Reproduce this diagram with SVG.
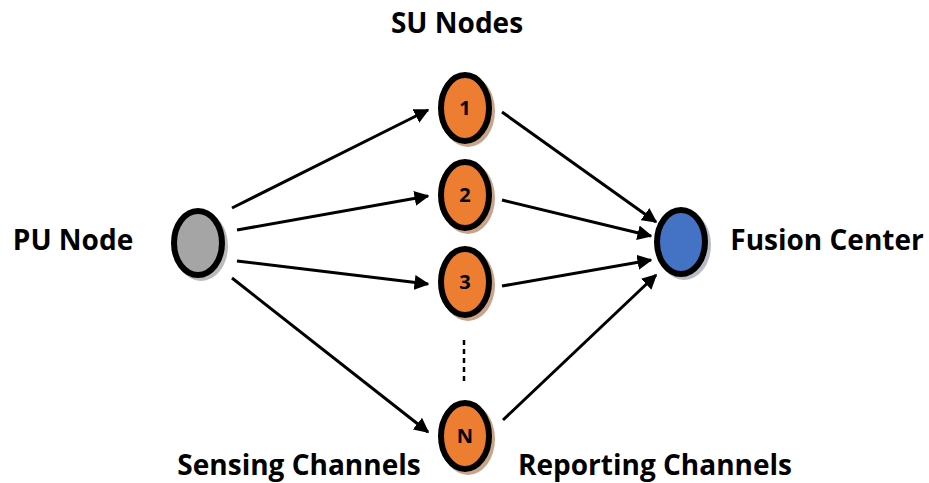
<svg xmlns="http://www.w3.org/2000/svg" width="929" height="483" viewBox="0 0 929 483">
<defs>
<style>
.lbl{font-family:"Open Sans","Liberation Sans",sans-serif;font-weight:700;font-size:28px;fill:#000}
.num{font-family:"Open Sans","Liberation Sans",sans-serif;font-weight:700;font-size:20px;fill:#000;text-anchor:middle}
.edge{stroke:#000;stroke-width:3;fill:none;marker-end:url(#ah)}
.su{fill:#ED7D31;stroke:#000;stroke-width:6}
.sh{fill:#C9A38A}
</style>
<marker id="ah" viewBox="0 0 10 10" refX="9" refY="5" markerWidth="5" markerHeight="5" orient="auto" markerUnits="strokeWidth">
<path d="M0,0 L10,5 L0,10 z" fill="#000"/>
</marker>
</defs>
<rect width="929" height="483" fill="#fff"/>
<g id="connectors">
<line class="edge" x1="232" y1="208" x2="428" y2="110"/>
<line class="edge" x1="237" y1="230" x2="428" y2="196"/>
<line class="edge" x1="237" y1="261" x2="428" y2="284"/>
<line class="edge" x1="232" y1="278" x2="428" y2="432"/>
<line class="edge" x1="502" y1="112" x2="656" y2="222"/>
<line class="edge" x1="502" y1="200" x2="651" y2="236"/>
<line class="edge" x1="502" y1="286" x2="651" y2="260"/>
<line class="edge" x1="503" y1="420" x2="656" y2="275"/>
<line x1="464" y1="340" x2="464" y2="385" stroke="#000" stroke-width="2.5" stroke-dasharray="5,4"/>
</g>
<g id="pu">
<ellipse cx="201" cy="246" rx="27" ry="35" fill="#bbb"/>
<ellipse cx="198" cy="243" rx="24" ry="32" fill="#A5A5A5" stroke="#000" stroke-width="6"/>
</g>
<g id="su1">
<ellipse class="sh" cx="468" cy="111" rx="27" ry="36"/>
<ellipse class="su" cx="465" cy="108" rx="24" ry="33"/>
<text class="num" x="465" y="115">1</text>
</g>
<g id="su2">
<ellipse class="sh" cx="468" cy="198" rx="27" ry="36"/>
<ellipse class="su" cx="465" cy="195" rx="24" ry="33"/>
<text class="num" x="465" y="202">2</text>
</g>
<g id="su3">
<ellipse class="sh" cx="468" cy="285" rx="27" ry="36"/>
<ellipse class="su" cx="465" cy="282" rx="24" ry="33"/>
<text class="num" x="465" y="289">3</text>
</g>
<g id="suN">
<ellipse class="sh" cx="468" cy="439" rx="27" ry="36"/>
<ellipse class="su" cx="465" cy="436" rx="24" ry="33"/>
<text class="num" x="465" y="443">N</text>
</g>
<g id="fusion">
<ellipse cx="684" cy="245" rx="27" ry="35" fill="#b8bcc8"/>
<ellipse cx="681" cy="242" rx="24" ry="32" fill="#4472C4" stroke="#000" stroke-width="6"/>
</g>
<g id="labels">
<text class="lbl" x="457" y="33" text-anchor="middle">SU Nodes</text>
<text class="lbl" x="73" y="250" text-anchor="middle">PU Node</text>
<text class="lbl" x="827" y="250" text-anchor="middle">Fusion Center</text>
<text class="lbl" x="299" y="475" text-anchor="middle">Sensing Channels</text>
<text class="lbl" x="655" y="475" text-anchor="middle">Reporting Channels</text>
</g>
</svg>
